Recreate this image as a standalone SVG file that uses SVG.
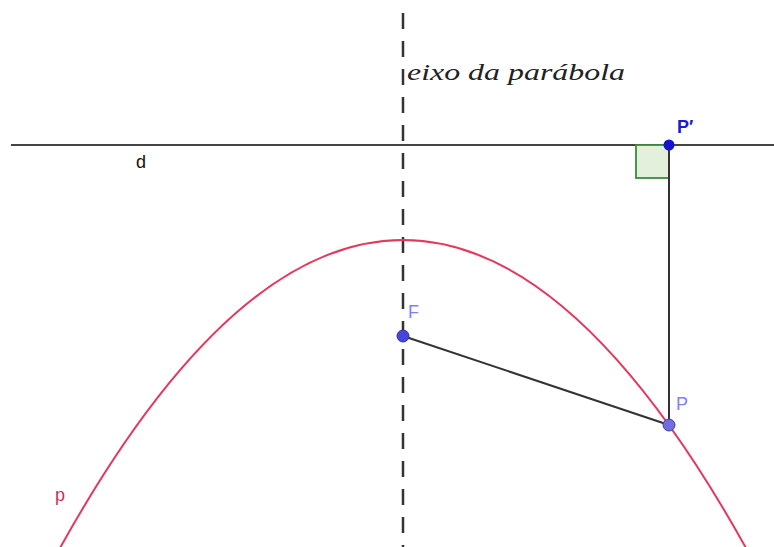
<svg xmlns="http://www.w3.org/2000/svg" width="774" height="547" viewBox="0 0 774 547">
<style>
.lbl{font-family:"Liberation Sans",Arial,sans-serif;font-size:18px}
.seg{stroke:#333;stroke-width:2;fill:none}
</style>
<rect width="774" height="547" fill="#fff"/>
<g id="connectors">
<line id="axis" x1="403" y1="13" x2="403" y2="547" stroke="#333" stroke-width="2.5" stroke-dasharray="16,12"/>
<line id="d-line" x1="11" y1="145" x2="774" y2="145" stroke="#444" stroke-width="2.2"/>
<path id="parabola" d="M58,551.6 Q403,-71.6 748,551.6" fill="none" stroke="#e4385c" stroke-width="2"/>
<rect id="right-angle" x="636" y="145" width="33" height="33" fill="#e2f0dc" stroke="#3c8c3c" stroke-width="1.8"/>
<line class="seg" x1="669" y1="145" x2="669" y2="425"/>
<line class="seg" x1="403" y1="336" x2="669" y2="425"/>
</g>
<g id="F"><circle cx="403" cy="336" r="6" fill="#4646dc" stroke="#3030a0" stroke-width="1"/><text class="lbl" x="408" y="318" fill="#7f7fff">F</text></g>
<g id="P"><circle cx="669" cy="425" r="6" fill="#6e6ee0" stroke="#4040a0" stroke-width="1"/><text class="lbl" x="676" y="410" fill="#7f7fff">P</text></g>
<g id="Pprime"><circle cx="669" cy="145" r="5.5" fill="#1414d0"/><text class="lbl" x="677" y="133" fill="#1a1ad0" font-weight="bold">P′</text></g>
<g id="d"><text class="lbl" x="136" y="168" fill="#111">d</text></g>
<g id="p"><text class="lbl" x="55" y="501" fill="#d0305a">p</text></g>
<g id="axis-label"><text x="407" y="80" font-family="'Liberation Serif',serif" font-style="italic" font-size="23" textLength="218" lengthAdjust="spacingAndGlyphs" fill="#222">eixo da parábola</text></g>
</svg>
